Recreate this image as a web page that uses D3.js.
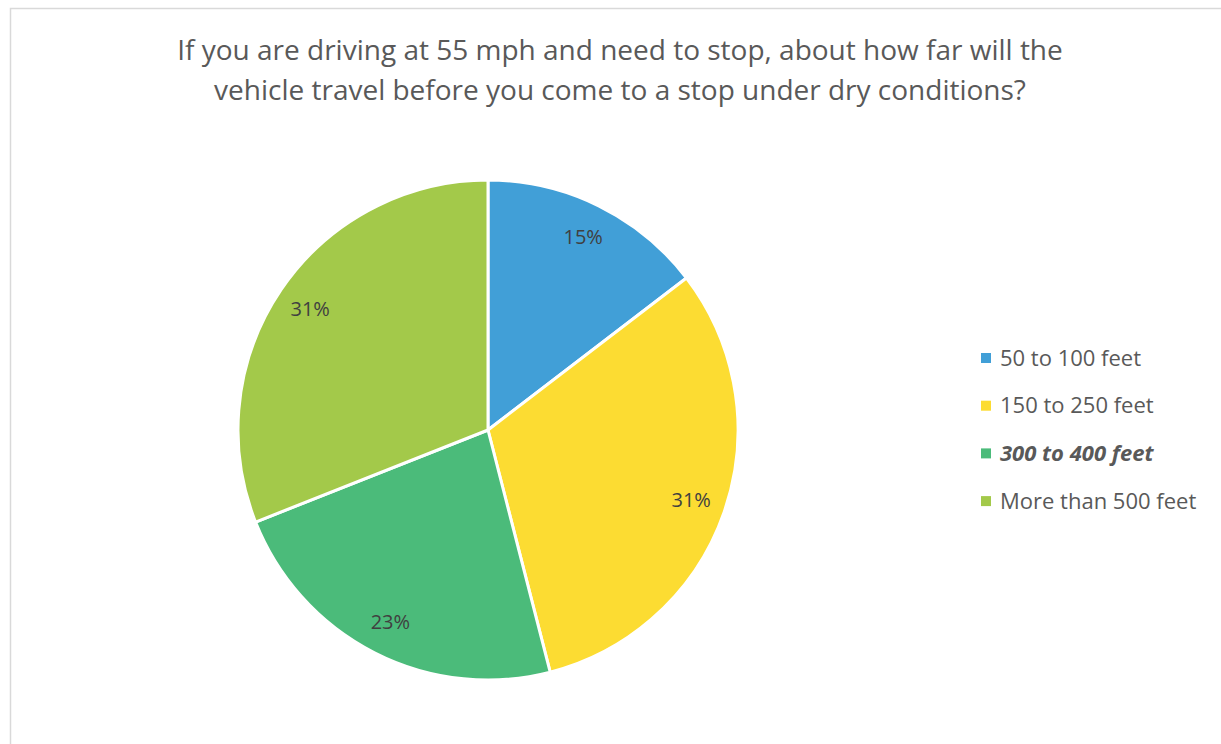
<!DOCTYPE html>
<html>
<head>
<meta charset="utf-8">
<script src="https://cdn.jsdelivr.net/npm/d3@7"></script>
<style>
  body { margin: 0; background: #fff; }
  text { font-family: "Open Sans", "Noto Sans", sans-serif; }
</style>
</head>
<body>
<div id="chart"></div>
<script>
// stopping distance survey - pie chart
var categories = ["50 to 100 feet", "150 to 250 feet", "300 to 400 feet", "More than 500 feet"];
var values = [14.6, 31.4, 23.0, 31.0];   // percent of answers
var colours = ["#419fd7", "#fcdc32", "#4bbb7a", "#a3c94a"];
var titleLines = ["If you are driving at 55 mph and need to stop, about how far will the",
                  "vehicle travel before you come to a stop under dry conditions?"];

var width = 1221,
    height = 744;

var svg = d3.select("#chart").append("svg")
    .attr("width", width)
    .attr("height", height);

// chart area border (runs off the right and bottom)
svg.append("rect")
    .attr("x", 10.5).attr("y", 8.5)
    .attr("width", 1240).attr("height", 760)
    .attr("fill", "white")
    .attr("stroke", "#d9d9d9")
    .attr("stroke-width", 1.5);

svg.selectAll(".title")
    .data(titleLines)
    .enter().append("text")
    .attr("class", "title")
    .attr("x", 620)
    .attr("y", function(d, i) { return 60 + i * 40; })
    .attr("text-anchor", "middle")
    .attr("fill", "#595959")
    .style("font-size", "28px")
    .text(function(d) { return d; });

var cx = 488, cy = 430, r = 250;

var pie = d3.pie().sort(null).value(function(d) { return d; });
var arc = d3.arc().innerRadius(0).outerRadius(r);
var labelArc = d3.arc().innerRadius(215).outerRadius(215);

var g = svg.append("g").attr("transform", "translate(" + cx + "," + cy + ")");

var slices = pie(values);

g.selectAll("path")
    .data(slices)
    .enter().append("path")
    .attr("d", arc)
    .attr("fill", function(d, i) { return colours[i]; })
    .attr("stroke", "white")
    .attr("stroke-width", 3)
    .attr("stroke-linejoin", "round");

g.selectAll(".lbl")
    .data(slices)
    .enter().append("text")
    .attr("class", "lbl")
    .attr("transform", function(d) { return "translate(" + labelArc.centroid(d) + ")"; })
    .attr("text-anchor", "middle")
    .attr("dy", "0.35em")
    .attr("fill", "#404040")
    .style("font-size", "20px")
    .text(function(d) { return Math.round(d.value) + "%"; });

// legend
var legend = svg.selectAll(".leg")
    .data(categories)
    .enter().append("g")
    .attr("class", "leg")
    .attr("transform", function(d, i) { return "translate(981," + (358 + i * 47.7) + ")"; });

legend.append("rect")
    .attr("x", 0).attr("y", -5)
    .attr("width", 10).attr("height", 10)
    .attr("fill", function(d, i) { return colours[i]; });

legend.append("text")
    .attr("x", 19)
    .attr("dy", "0.35em")
    .attr("fill", "#595959")
    .style("font-size", "22px")
    .style("font-weight", function(d, i) { return i == 2 ? "bold" : "normal"; })
    .style("font-style", function(d, i) { return i == 2 ? "italic" : "normal"; })
    .text(function(d) { return d; });
</script>
</body>
</html>
